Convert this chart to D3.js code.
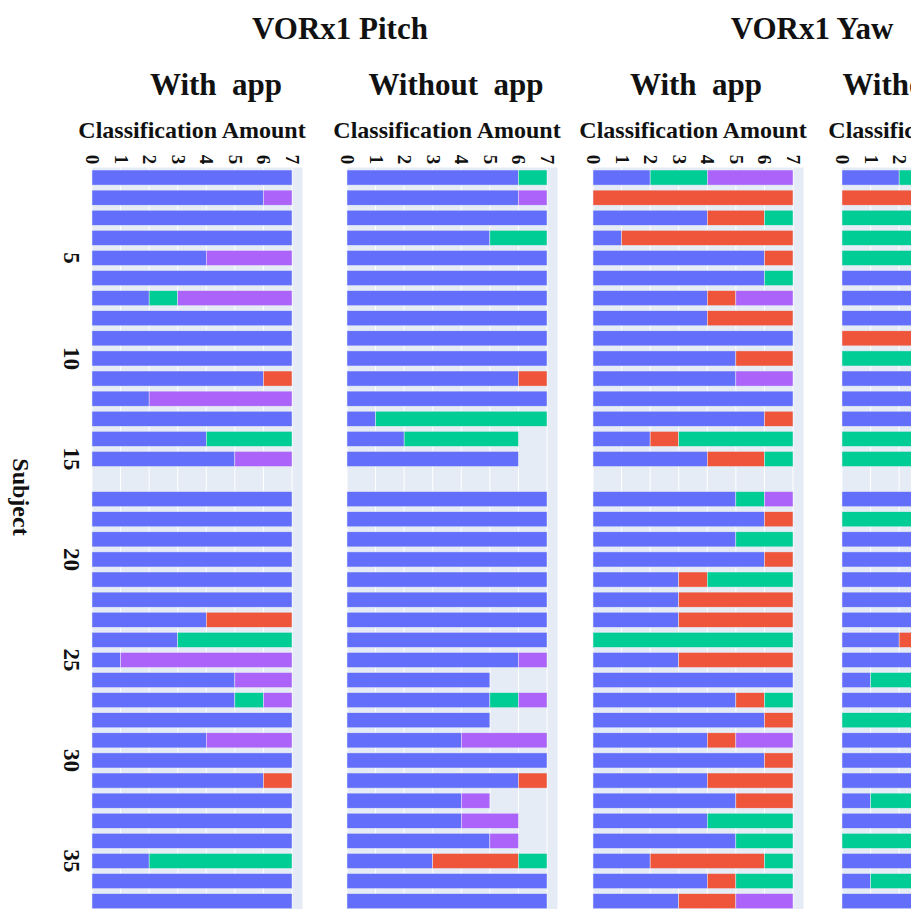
<!DOCTYPE html>
<html>
<head>
<meta charset="utf-8">
<script src="https://cdn.jsdelivr.net/npm/d3@7"></script>
<style>
  html, body { margin: 0; padding: 0; background: #fff; overflow: hidden; }
  svg { display: block; }
  text { font-family: "Liberation Serif", "Times New Roman", serif; font-weight: bold; fill: #111; }
</style>
</head>
<body>
<div id="chart"></div>
<script>
// Subjects on the vertical axis (16 has no recordings)
const subjects = [1,2,3,4,5,6,7,8,9,10,11,12,13,14,15,16,17,18,19,20,
                  21,22,23,24,25,26,27,28,29,30,31,32,33,34,35,36,37];
const classes = ["A", "B", "C", "D"];
const classColors = ["#636EFA", "#EF553B", "#00CC96", "#AB63FA"];
const xTicks = [0, 1, 2, 3, 4, 5, 6, 7];
const yTicks = [5, 10, 15, 20, 25, 30, 35];

// Classification amounts per subject: [A, B, C, D]
const pitchWithApp = [
  [7,0,0,0],[6,0,0,1],[7,0,0,0],[7,0,0,0],[4,0,0,3],[7,0,0,0],[2,0,1,4],[7,0,0,0],
  [7,0,0,0],[7,0,0,0],[6,1,0,0],[2,0,0,5],[7,0,0,0],[4,0,3,0],[5,0,0,2],null,
  [7,0,0,0],[7,0,0,0],[7,0,0,0],[7,0,0,0],[7,0,0,0],[7,0,0,0],[4,3,0,0],[3,0,4,0],
  [1,0,0,6],[5,0,0,2],[5,0,1,1],[7,0,0,0],[4,0,0,3],[7,0,0,0],[6,1,0,0],[7,0,0,0],
  [7,0,0,0],[7,0,0,0],[2,0,5,0],[7,0,0,0],[7,0,0,0]
];
const pitchWithoutApp = [
  [6,0,1,0],[6,0,0,1],[7,0,0,0],[5,0,2,0],[7,0,0,0],[7,0,0,0],[7,0,0,0],[7,0,0,0],
  [7,0,0,0],[7,0,0,0],[6,1,0,0],[7,0,0,0],[1,0,6,0],[2,0,4,0],[6,0,0,0],null,
  [7,0,0,0],[7,0,0,0],[7,0,0,0],[7,0,0,0],[7,0,0,0],[7,0,0,0],[7,0,0,0],[7,0,0,0],
  [6,0,0,1],[5,0,0,0],[5,0,1,1],[5,0,0,0],[4,0,0,3],[7,0,0,0],[6,1,0,0],[4,0,0,1],
  [4,0,0,2],[5,0,0,1],[3,3,1,0],[7,0,0,0],[7,0,0,0]
];
const yawWithApp = [
  [2,0,2,3],[0,7,0,0],[4,2,1,0],[1,6,0,0],[6,1,0,0],[6,0,1,0],[4,1,0,2],[4,3,0,0],
  [7,0,0,0],[5,2,0,0],[5,0,0,2],[7,0,0,0],[6,1,0,0],[2,1,4,0],[4,2,1,0],null,
  [5,0,1,1],[6,1,0,0],[5,0,2,0],[6,1,0,0],[3,1,3,0],[3,4,0,0],[3,4,0,0],[0,0,7,0],
  [3,4,0,0],[7,0,0,0],[5,1,1,0],[6,1,0,0],[4,1,0,2],[6,1,0,0],[4,3,0,0],[5,2,0,0],
  [4,0,3,0],[5,0,2,0],[2,4,1,0],[4,1,2,0],[3,2,0,2]
];
const yawWithoutApp = [
  [2,0,5,0],[0,7,0,0],[0,0,7,0],[0,0,7,0],[0,0,7,0],[7,0,0,0],[7,0,0,0],[7,0,0,0],
  [0,7,0,0],[0,0,7,0],[7,0,0,0],[7,0,0,0],[7,0,0,0],[0,0,7,0],[0,0,7,0],null,
  [7,0,0,0],[0,0,7,0],[7,0,0,0],[7,0,0,0],[7,0,0,0],[7,0,0,0],[7,0,0,0],[2,5,0,0],
  [7,0,0,0],[1,0,6,0],[7,0,0,0],[0,0,7,0],[7,0,0,0],[7,0,0,0],[7,0,0,0],[1,0,6,0],
  [7,0,0,0],[0,0,7,0],[7,0,0,0],[1,0,6,0],[7,0,0,0]
];

const panels = [
  { title: "With  app",    rows: pitchWithApp,    left: 92,  titleX: 216 },
  { title: "Without  app", rows: pitchWithoutApp, left: 347, titleX: 456 },
  { title: "With  app",    rows: yawWithApp,      left: 593, titleX: 696 },
  { title: "Without  app", rows: yawWithoutApp,   left: 842, titleX: 930 }
];
const groups = [
  { title: "VORx1 Pitch", x: 340 },
  { title: "VORx1 Yaw",   x: 812 }
];

const W = 911, H = 909;
const plotTop = 167.5, rowStep = 20.1;
const xMax = 7 / 0.95;
const panelW = 200 * xMax / 7;

const svg = d3.select("#chart").append("svg").attr("width", W).attr("height", H);
svg.append("rect").attr("width", W).attr("height", H).attr("fill", "#fff");

const x = d3.scaleLinear().domain([0, xMax]).range([0, panelW]);
const y = d3.scaleBand()
  .domain(subjects)
  .range([plotTop, plotTop + subjects.length * rowStep])
  .paddingInner(0.25).paddingOuter(0.125);

const stack = d3.stack()
  .keys(d3.range(classes.length))
  .value((d, k) => d.vals ? d.vals[k] : 0);

panels.forEach(p => {
  const g = svg.append("g").attr("transform", `translate(${p.left},0)`);
  g.append("rect")
    .attr("x", 0).attr("y", plotTop)
    .attr("width", panelW).attr("height", subjects.length * rowStep)
    .attr("fill", "#E5ECF6");

  // vertical grid
  g.selectAll("line.grid").data(xTicks).join("line")
    .attr("class", "grid")
    .attr("x1", d => x(d)).attr("x2", d => x(d))
    .attr("y1", plotTop).attr("y2", plotTop + subjects.length * rowStep)
    .attr("stroke", "#fff").attr("stroke-width", 1);

  const rows = subjects.map((s, i) => ({ subject: s, vals: p.rows[i] }));
  const series = stack(rows);
  g.selectAll("g.series").data(series).join("g")
    .attr("class", "series")
    .attr("fill", (d, i) => classColors[i])
    .selectAll("rect").data(d => d.filter(v => v[1] > v[0])).join("rect")
      .attr("x", d => x(d[0]))
      .attr("width", d => x(d[1]) - x(d[0]))
      .attr("y", d => y(d.data.subject))
      .attr("height", y.bandwidth())
      .attr("stroke", "#E5ECF6").attr("stroke-width", 0.5);

  // top axis with rotated tick labels
  const ax = g.append("g").attr("transform", `translate(0,${plotTop})`)
    .call(d3.axisTop(x).tickValues(xTicks).tickSize(0).tickPadding(0));
  ax.select(".domain").remove();
  ax.selectAll(".tick text")
    .attr("x", 0).attr("y", 0).attr("dy", null)
    .attr("text-anchor", "middle")
    .attr("dominant-baseline", "central")
    .attr("transform", "translate(0,-8) rotate(90)")
    .style("font-size", "19px")
    .style("font-family", "Liberation Serif, serif")
    .style("font-weight", "bold")
    .attr("fill", "#111");

  g.append("text")
    .attr("transform", `translate(${x(3.5)},138)`)
    .attr("text-anchor", "middle")
    .style("font-size", "24px")
    .text("Classification Amount");

  svg.append("text")
    .attr("x", p.titleX).attr("y", 95)
    .attr("text-anchor", "middle")
    .style("font-size", "31px")
    .style("white-space", "pre")
    .text(p.title);
});

groups.forEach(gr => {
  svg.append("text")
    .attr("x", gr.x).attr("y", 39)
    .attr("text-anchor", "middle")
    .style("font-size", "31px")
    .text(gr.title);
});

// left axis: subject numbers, rotated
const yAx = svg.append("g").attr("transform", `translate(${panels[0].left},0)`)
  .call(d3.axisLeft(y).tickValues(yTicks).tickSize(0).tickPadding(0));
yAx.select(".domain").remove();
yAx.selectAll(".tick text")
  .attr("x", 0).attr("dy", null)
  .attr("text-anchor", "middle")
  .attr("dominant-baseline", "central")
  .attr("transform", "translate(-21,0) rotate(90)")
  .style("font-size", "23px")
  .style("font-family", "Liberation Serif, serif")
  .style("font-weight", "bold")
  .attr("fill", "#111");

svg.append("text")
  .attr("transform", "translate(21,497) rotate(90)")
  .attr("text-anchor", "middle")
  .attr("dominant-baseline", "central")
  .style("font-size", "24px")
  .text("Subject");
</script>
</body>
</html>
